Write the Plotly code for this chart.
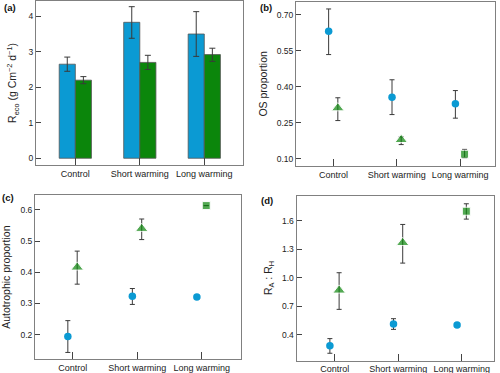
import plotly.graph_objects as go

categories = ["Control", "Short warming", "Long warming"]
cat_pos = [0, 1, 2]

# (a) Reco bars (g C m-2 d-1)
reco_blue = [2.65, 3.83, 3.50]
reco_blue_err_plus = [0.20, 0.44, 0.63]
reco_blue_err_minus = [0.20, 0.45, 0.63]
reco_green = [2.20, 2.70, 2.92]
reco_green_err_plus = [0.10, 0.20, 0.18]
reco_green_err_minus = [0.10, 0.20, 0.19]

# (b) OS proportion
os_blue = [0.632, 0.357, 0.330]
os_blue_err_plus = [0.093, 0.073, 0.055]
os_blue_err_minus = [0.097, 0.072, 0.060]
os_green = [0.312, 0.180, 0.120]
os_green_err_plus = [0.043, 0.012, 0.020]
os_green_err_minus = [0.052, 0.020, 0.015]

# (c) Autotrophic proportion
auto_blue = [0.194, 0.323, 0.321]
auto_blue_err_plus = [0.051, 0.025, 0.0]
auto_blue_err_minus = [0.051, 0.026, 0.0]
auto_green = [0.416, 0.540, 0.614]
auto_green_err_plus = [0.052, 0.031, 0.0]
auto_green_err_minus = [0.054, 0.035, 0.0]

# (d) RA : RH
ratio_blue = [0.288, 0.515, 0.505]
ratio_blue_err_plus = [0.074, 0.056, 0.0]
ratio_blue_err_minus = [0.080, 0.056, 0.0]
ratio_green = [0.869, 1.369, 1.700]
ratio_green_err_plus = [0.185, 0.192, 0.078]
ratio_green_err_minus = [0.200, 0.214, 0.083]
green_symbols = ["triangle-up", "triangle-up", "square"]
green_sizes = [11, 11, 8]

BLUE = "#0b9ad3"
GREEN = "#0b860b"
ERRC = "#3a3a3a"
FRAME = "#808080"
FONT = "Liberation Sans, Arial, sans-serif"

fig = go.Figure()

def err(plus, minus, w):
    return dict(type="data", symmetric=False, array=plus, arrayminus=minus,
                color=ERRC, thickness=1, width=w)

# (a)
fig.add_trace(go.Bar(x=cat_pos, y=reco_blue, marker=dict(color=BLUE, line=dict(color="#555", width=0.8)),
                     error_y=err(reco_blue_err_plus, reco_blue_err_minus, 3), xaxis="x", yaxis="y",
                     showlegend=False))
fig.add_trace(go.Bar(x=cat_pos, y=reco_green, marker=dict(color=GREEN, line=dict(color="#555", width=0.8)),
                     error_y=err(reco_green_err_plus, reco_green_err_minus, 3), xaxis="x", yaxis="y",
                     showlegend=False))

off_b, off_g = -0.075, 0.07
xb = [p + off_b for p in cat_pos]
xg = [p + off_g for p in cat_pos]

panels = [
    ("x2", "y2", os_blue, os_blue_err_plus, os_blue_err_minus, os_green, os_green_err_plus, os_green_err_minus),
    ("x3", "y3", auto_blue, auto_blue_err_plus, auto_blue_err_minus, auto_green, auto_green_err_plus, auto_green_err_minus),
    ("x4", "y4", ratio_blue, ratio_blue_err_plus, ratio_blue_err_minus, ratio_green, ratio_green_err_plus, ratio_green_err_minus),
]
for xa, ya, b, bp, bm, g, gp, gm in panels:
    fig.add_trace(go.Scatter(x=xb, y=b, mode="markers", xaxis=xa, yaxis=ya, showlegend=False,
                             marker=dict(color=BLUE, size=7.5, symbol="circle"),
                             error_y=err(bp, bm, 2.5)))
    fig.add_trace(go.Scatter(x=xg, y=g, mode="markers", xaxis=xa, yaxis=ya, showlegend=False,
                             marker=dict(color=GREEN, size=green_sizes, symbol=green_symbols),
                             error_y=err(gp, gm, 2.5)))

W, H = 500, 373
def dx(a, b):
    return [a / W, b / W]
def dy(top, bot):
    return [1 - bot / H, 1 - top / H]

xcommon = dict(tickvals=cat_pos, ticktext=categories, ticks="inside", ticklen=7, tickwidth=1,
               tickcolor="#444", showline=True, mirror=True, linecolor=FRAME, linewidth=1,
               showgrid=False, zeroline=False, tickfont=dict(size=9, color="#222", family=FONT),
               automargin=False)
ycommon = dict(ticks="inside", ticklen=5, tickwidth=1, tickcolor="#444", showline=True, mirror=True,
               linecolor=FRAME, linewidth=1, showgrid=False, zeroline=False,
               tickfont=dict(size=8.5, color="#222", family=FONT), automargin=False)
tfont = dict(size=10.5, color="#222", family=FONT)

fig.update_layout(
    width=W, height=H, margin=dict(l=0, r=0, t=0, b=0),
    paper_bgcolor="white", plot_bgcolor="white",
    barmode="group", bargap=0.5, bargroupgap=0,
    font=dict(family=FONT, color="#222"),
    xaxis=dict(xcommon, domain=dx(36, 243.3), range=[-0.61, 2.605], anchor="y"),
    yaxis=dict(ycommon, domain=dy(1, 165), range=[-0.19, 4.43], tickvals=[0, 1, 2, 3, 4], anchor="x",
               title=dict(text="R<sub>eco</sub> (g Cm<sup>−2</sup> d<sup>−1</sup>)", font=tfont, standoff=9)),
    xaxis2=dict(xcommon, domain=dx(296, 495), range=[-0.59, 2.55], anchor="y2"),
    yaxis2=dict(ycommon, domain=dy(2, 165.7), range=[0.072, 0.754], anchor="x2",
                tickvals=[0.10, 0.25, 0.40, 0.55, 0.70], ticktext=["0.10", "0.25", "0.40", "0.55", "0.70"],
                title=dict(text="OS proportion", font=tfont, standoff=7)),
    xaxis3=dict(xcommon, domain=dx(35, 241), range=[-0.584, 2.609], anchor="y3"),
    yaxis3=dict(ycommon, domain=dy(195, 359.3), range=[0.121, 0.648], anchor="x3",
                tickvals=[0.2, 0.3, 0.4, 0.5, 0.6], ticktext=["0.2", "0.3", "0.4", "0.5", "0.6"],
                title=dict(text="Autotrophic proportion", font=tfont, standoff=9)),
    xaxis4=dict(xcommon, domain=dx(296.5, 494.3), range=[-0.60, 2.51], anchor="y4"),
    yaxis4=dict(ycommon, domain=dy(195.5, 360.5), range=[0.132, 1.865], anchor="x4",
                tickvals=[0.4, 0.7, 1.0, 1.3, 1.6], ticktext=["0.4", "0.7", "1.0", "1.3", "1.6"],
                title=dict(text="R<sub>A</sub> : R<sub>H</sub>", font=tfont, standoff=7)),
)

labels = [("(a)", 2, 7), ("(b)", 258, 7), ("(c)", 0, 197), ("(d)", 259, 200)]
for txt, px, py in labels:
    fig.add_annotation(text="<b>" + txt + "</b>", xref="paper", yref="paper", x=px / W, y=1 - py / H,
                       xanchor="left", yanchor="middle", showarrow=False,
                       font=dict(size=9.5, color="#111", family=FONT))

fig.write_html("out.html", config={"displayModeBar": False},
               post_script="document.body.style.margin='0px';document.body.style.overflow='hidden';")
